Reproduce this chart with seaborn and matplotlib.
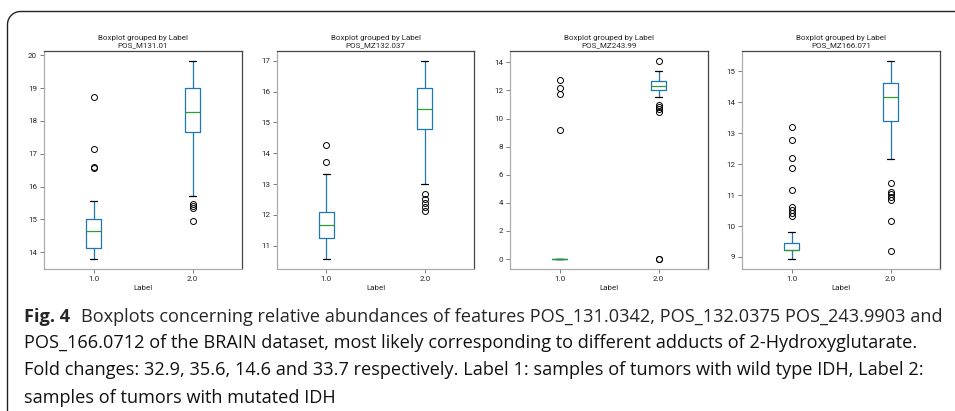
import numpy as np
import pandas as pd
import matplotlib
matplotlib.use("Agg")
import matplotlib.pyplot as plt
from matplotlib.lines import Line2D
from matplotlib.ticker import MultipleLocator
import seaborn as sns

# feature shown in each panel
features = ["POS_M131.01", "POS_MZ132.037", "POS_MZ243.99", "POS_MZ166.071"]
labels = ["1.0", "2.0"]

m131_wt = [13.79, 13.88, 13.95, 14.02, 14.08, 14.12, 14.25, 14.38, 14.48, 14.58, 14.65,
           14.72, 14.80, 14.88, 14.95, 15.01, 15.55, 16.57, 16.60, 17.14, 18.73]
m131_mut = [14.95, 15.35, 15.42, 15.47, 15.71, 17.66, 17.80, 17.95, 18.08, 18.20, 18.28,
            18.40, 18.55, 18.70, 18.85, 19.00, 19.20, 19.40, 19.55, 19.70, 19.83]

m132_wt = [10.56, 10.75, 10.90, 11.05, 11.15, 11.24, 11.32, 11.42, 11.50, 11.58, 11.66,
           11.75, 11.84, 11.92, 12.00, 12.08, 12.40, 12.90, 13.31, 13.73, 14.26]
m132_mut = [12.12, 12.24, 12.37, 12.52, 12.67, 12.99, 14.79, 14.90, 15.02, 15.15, 15.25,
            15.35, 15.44, 15.55, 15.65, 15.78, 15.90, 16.00, 16.12, 16.30, 16.45, 16.60,
            16.75, 16.88, 17.00]

m243_wt = [0.0, 0.0, 0.0, 0.0, 0.0, 0.0, 0.0, 0.0, 0.0, 0.0, 0.0, 0.0, 0.0, 0.0, 0.0,
           0.0, 0.0, 9.15, 11.75, 12.15, 12.72]
m243_mut = [0.0, 0.0, 10.45, 10.70, 10.85, 10.95, 11.53, 12.00, 12.05, 12.10, 12.15,
            12.20, 12.25, 12.29, 12.33, 12.38, 12.42, 12.47, 12.52, 12.56, 12.60, 12.64,
            12.75, 12.90, 13.00, 13.10, 13.25, 13.40, 14.10]

m166_wt = [8.93, 8.98, 9.03, 9.07, 9.10, 9.13, 9.15, 9.17, 9.19, 9.20, 9.21, 9.21, 9.21,
           9.21, 9.21, 9.22, 9.22, 9.22, 9.22, 9.22, 9.22, 9.24, 9.27, 9.30, 9.33, 9.36,
           9.38, 9.40, 9.42, 9.44, 9.46, 9.82, 10.33, 10.42, 10.52, 10.62, 11.16, 11.87,
           12.20, 12.77, 13.20]
m166_mut = [9.18, 10.15, 10.85, 10.93, 11.02, 11.10, 11.38, 12.17, 13.40, 13.50, 13.60,
            13.70, 13.80, 13.90, 14.00, 14.08, 14.16, 14.22, 14.28, 14.34, 14.40, 14.46,
            14.52, 14.57, 14.61, 14.70, 14.80, 14.90, 15.00, 15.10, 15.20, 15.28, 15.34]

groups = [(m131_wt, m131_mut), (m132_wt, m132_mut), (m243_wt, m243_mut), (m166_wt, m166_mut)]
ytick_step = [1, 1, 2, 1]

caption_bold = "Fig. 4"
caption_lines = [
    "Boxplots concerning relative abundances of features POS_131.0342, POS_132.0375 POS_243.9903 and",
    "POS_166.0712 of the BRAIN dataset, most likely corresponding to different adducts of 2-Hydroxyglutarate.",
    "Fold changes: 32.9, 35.6, 14.6 and 33.7 respectively. Label 1: samples of tumors with wild type IDH, Label 2:",
    "samples of tumors with mutated IDH",
]

W, H = 955, 411
sns.set_style("white")
plt.rcParams["font.family"] = ["Roboto", "DejaVu Sans"]
small_size = 5.8

fig = plt.figure(figsize=(W / 100, H / 100), dpi=100)

# panel boxes in pixels (left, right), shared top / bottom
panel_x = [(44, 242), (277, 474), (510, 708), (742, 940)]
top, bottom = 51, 269

for i, (feat, (wt, mut)) in enumerate(zip(features, groups)):
    l, r = panel_x[i]
    ax = fig.add_axes([l / W, 1 - bottom / H, (r - l) / W, (bottom - top) / H])
    df = pd.DataFrame({
        "Label": [labels[0]] * len(wt) + [labels[1]] * len(mut),
        feat: wt + mut,
    })
    sns.boxplot(
        data=df, x="Label", y=feat, order=labels, ax=ax,
        width=0.15, fill=False, whis=1.5,
        boxprops=dict(color="#1f77b4", linewidth=0.9),
        whiskerprops=dict(color="#1f77b4", linewidth=0.9),
        medianprops=dict(color="#2ca02c", linewidth=0.9),
        capprops=dict(color="black", linewidth=0.9),
        flierprops=dict(marker="o", markersize=4.3, markerfacecolor="none",
                        markeredgecolor="black", markeredgewidth=0.7),
    )
    ax.set_xlim(-0.5, 1.5)
    ax.yaxis.set_major_locator(MultipleLocator(ytick_step[i]))
    ax.set_ylabel("")
    ax.set_xlabel("Label", fontsize=small_size, labelpad=2)
    ax.set_title("Boxplot grouped by Label\n" + feat, fontsize=small_size, pad=3, linespacing=1.1)
    ax.tick_params(left=True, bottom=True, length=3, width=0.6, color="#666666",
                   labelsize=small_size, pad=2)
    for side in ["left", "bottom"]:
        ax.spines[side].set_color("#aaaaaa")
    for side in ["top", "right"]:
        ax.spines[side].set_color("#444444")
    for s in ax.spines.values():
        s.set_linewidth(0.9)

# frame line around the figure (top edge + rounded corner + left edge)
rad = 13
cx, cy = 7.5 + rad, 11.5 + rad
theta = np.linspace(np.pi, 1.5 * np.pi, 20)
fx = np.concatenate([[7.5], cx + rad * np.cos(theta), [W]])
fy = np.concatenate([[H], cy + rad * np.sin(theta), [11.5]])
fig.add_artist(Line2D(fx / W, 1 - fy / H, transform=fig.transFigure, color="#222222", lw=1.0))

# caption, sized so the third line spans its width in the reference
renderer = fig.canvas.get_renderer()
cap_font = ["Open Sans", "DejaVu Sans"]
probe = fig.text(0, 0, caption_lines[2], fontsize=12, family=cap_font)
w = probe.get_window_extent(renderer).width
probe.remove()
cap_size = 12 * 896 / w

x0 = 24
baselines = [322, 348, 375, 403]
t = fig.text(x0 / W, 1 - baselines[0] / H, caption_bold, fontsize=cap_size, family=cap_font,
             weight="bold", va="baseline")
bw = t.get_window_extent(renderer).width
fig.text((x0 + bw + 11) / W, 1 - baselines[0] / H, caption_lines[0], fontsize=cap_size,
         family=cap_font, va="baseline")
for line, yb in zip(caption_lines[1:], baselines[1:]):
    fig.text(x0 / W, 1 - yb / H, line, fontsize=cap_size, family=cap_font, va="baseline",
             color="#111111")

fig.savefig("out.png", dpi=100)
